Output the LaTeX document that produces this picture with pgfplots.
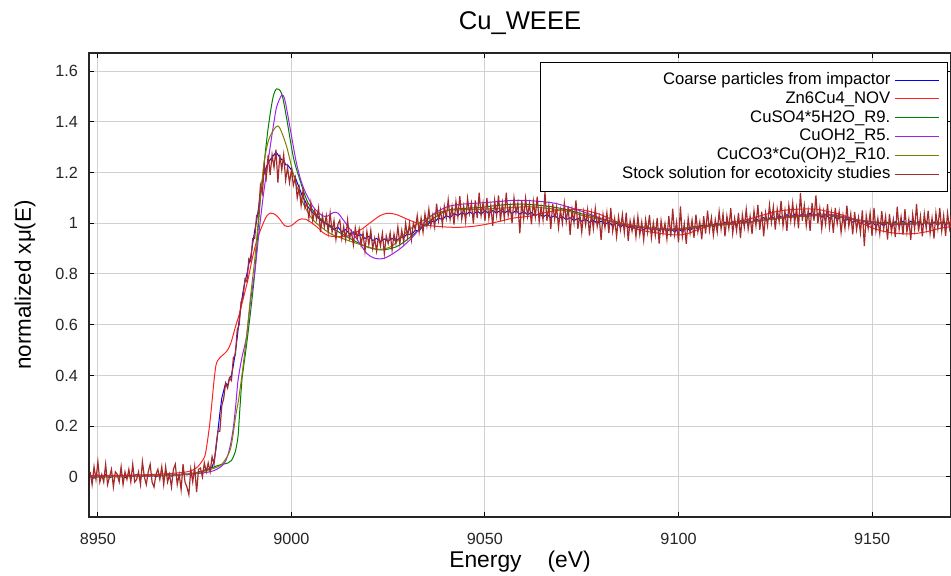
\documentclass[border=0pt]{standalone}
\usepackage{fontspec}
\setmainfont{Liberation Sans}
\usepackage{pgfplots}
\pgfplotsset{compat=1.18}
\definecolor{cblue}{RGB}{0,0,255}
\definecolor{cred}{RGB}{255,35,35}
\definecolor{cgreen}{RGB}{0,128,0}
\definecolor{cpurple}{RGB}{160,32,240}
\definecolor{colive}{RGB}{128,128,0}
\definecolor{cbrown}{RGB}{165,42,42}
\definecolor{cgrid}{RGB}{208,208,208}
\begin{document}
\begin{tikzpicture}
\useasboundingbox (-44.5pt,-29pt) rectangle (431pt,258.5pt);
\begin{axis}[
  at={(0pt,0pt)}, anchor=south west,
  scale only axis, width=431pt, height=232pt,
  xmin=8947.7, xmax=9170.4, ymin=-0.158, ymax=1.671,
  xtick={8950,9000,9050,9100,9150},
  ytick={0,0.2,0.4,0.6,0.8,1,1.2,1.4,1.6},
  scaled x ticks=false, scaled y ticks=false,
  /pgf/number format/1000 sep={},
  /pgf/number format/assume math mode=true,
  grid=major, major grid style={cgrid, line width=0.5pt},
  tick align=inside, major tick length=2.5pt,
  tick style={black, line width=0.5pt},
  axis line style={black!85, line width=0.6pt},
  ticklabel style={font=\fontsize{8.1}{9}\selectfont, text=black!85},
  xticklabel style={yshift=-4.5pt},
  yticklabel style={xshift=-2pt},
  every axis title shift=0pt,
  title={Cu\_WEEE},
  title style={font=\fontsize{12.8}{14}\selectfont, at={(axis description cs:0.5,1.065)}, anchor=center},
  xlabel={Energy\hspace{13pt}(eV)},
  xlabel style={font=\fontsize{11.4}{13}\selectfont, at={(axis description cs:0.5,-0.097)}, anchor=center},
  ylabel={normalized xμ(E)},
  ylabel style={font=\fontsize{11.2}{13}\selectfont, at={(axis description cs:-0.0742,0.5)}, anchor=center},
  legend plot pos=right,
  legend cell align=right,
  legend image code/.code={\draw[#1, line width=0.5pt] (0pt,0pt) -- (22pt,0pt);},
  legend style={at={(axis description cs:0.9965,0.9806)}, anchor=north east,
    draw=black, line width=0.6pt, fill=white,
    font=\fontsize{8.35}{9.4}\selectfont, inner xsep=4pt, inner ysep=4pt,
    nodes={text height=6.2pt, text depth=1.8pt, inner ysep=0.7pt, inner xsep=2pt}},
  every axis plot/.append style={line width=0.5pt},
]
% Coarse particles from impactor
\addplot[cblue] coordinates {
(8948,0.005) (8949,-0.005) (8950,0.008) (8951,0.0) (8952,0.01) (8953,-0.004) (8954,0.006) (8955,0.0) (8956,0.009) (8957,-0.003)
(8958,0.007) (8959,0.002) (8960,0.01) (8961,-0.002) (8962,0.008) (8963,0.003) (8964,0.011) (8965,0.0) (8966,0.009) (8967,0.004)
(8968,0.012) (8969,0.003) (8970,0.01) (8971,0.006) (8972,0.014) (8973,0.008) (8974,0.016) (8975,0.012) (8976,0.02) (8977,0.022)
(8978,0.03) (8979,0.032) (8979.5,0.04) (8980,0.06) (8980.5,0.11) (8981,0.18) (8981.5,0.25) (8982,0.31) (8982.5,0.34) (8983,0.37)
(8983.5,0.36) (8984,0.39) (8984.5,0.40) (8985,0.44) (8985.5,0.49) (8986,0.55) (8986.5,0.62) (8987,0.68) (8987.5,0.73) (8988,0.77)
(8988.5,0.80) (8989,0.84) (8989.5,0.87) (8990,0.92) (8990.5,0.97) (8991,1.01) (8991.5,1.06) (8992,1.12) (8992.5,1.17) (8993,1.20)
(8993.5,1.22) (8994,1.24) (8994.5,1.25) (8995,1.26) (8995.5,1.27) (8996,1.28) (8996.5,1.27) (8997,1.26) (8997.5,1.25) (8998,1.25)
(8998.5,1.23) (8999,1.23) (8999.5,1.22) (9000,1.21) (9000.5,1.19) (9001,1.18) (9001.5,1.16) (9002,1.14) (9002.5,1.12) (9003,1.10)
(9003.5,1.09) (9004,1.07) (9005,1.05) (9006,1.035) (9007,1.02) (9008,1.005) (9009,1.0) (9010,0.99) (9011,0.975) (9012,0.985)
(9013,0.965) (9014,0.975) (9015,0.958) (9016,0.966) (9017,0.95) (9018,0.955) (9019,0.94) (9020,0.948) (9021,0.932) (9022,0.94)
(9023,0.928) (9024,0.938) (9025,0.93) (9026,0.94) (9027,0.93) (9028,0.942) (9029,0.945) (9030,0.958) (9031,0.955) (9032,0.972)
(9033,0.97) (9034,0.99) (9035,0.99) (9036,1.008) (9037,1.005) (9038,1.02) (9039,1.015) (9040,1.03) (9041,1.022) (9042,1.038)
(9043,1.03) (9044,1.042) (9045,1.032) (9046,1.045) (9047,1.035) (9048,1.048) (9049,1.036) (9050,1.05) (9051,1.038) (9052,1.05)
(9053,1.04) (9054,1.052) (9055,1.04) (9056,1.05) (9057,1.038) (9058,1.05) (9059,1.036) (9060,1.046) (9061,1.034) (9062,1.042)
(9063,1.03) (9064,1.038) (9065,1.025) (9066,1.034) (9067,1.022) (9068,1.03) (9069,1.018) (9070,1.026) (9071,1.014) (9072,1.022)
(9073,1.01) (9074,1.02) (9075,1.008) (9076,1.016) (9077,1.004) (9078,1.012) (9079,1.0) (9080,1.008) (9081,0.996) (9082,1.004)
(9083,0.99) (9084,1.0) (9085,0.986) (9086,0.995) (9087,0.982) (9088,0.99) (9089,0.978) (9090,0.988) (9091,0.975) (9092,0.984)
(9093,0.972) (9094,0.982) (9095,0.97) (9096,0.98) (9097,0.968) (9098,0.978) (9099,0.966) (9100,0.976) (9101,0.968) (9102,0.98)
(9103,0.972) (9104,0.986) (9105,0.978) (9106,0.992) (9107,0.984) (9108,0.996) (9109,0.988) (9110,1.0) (9111,0.99) (9112,1.004)
(9113,0.994) (9114,1.006) (9115,0.996) (9116,1.01) (9117,1.0) (9118,1.014) (9119,1.004) (9120,1.018) (9121,1.008) (9122,1.022)
(9123,1.012) (9124,1.026) (9125,1.016) (9126,1.03) (9127,1.02) (9128,1.034) (9129,1.022) (9130,1.036) (9131,1.024) (9132,1.038)
(9133,1.026) (9134,1.04) (9135,1.027) (9136,1.038) (9137,1.024) (9138,1.034) (9139,1.02) (9140,1.03) (9141,1.016) (9142,1.024)
(9143,1.01) (9144,1.018) (9145,1.004) (9146,1.012) (9147,0.998) (9148,1.008) (9149,0.994) (9150,1.004) (9151,0.99) (9152,1.002)
(9153,0.99) (9154,1.004) (9155,0.992) (9156,1.006) (9157,0.994) (9158,1.008) (9159,0.995) (9160,1.008) (9161,0.995) (9162,1.006)
(9163,0.994) (9164,1.006) (9165,0.994) (9166,1.005) (9167,0.993) (9168,1.004) (9169,0.993) (9170,1.003) (9170.5,0.998)
};
\addlegendentry{\makebox[169pt][r]{Coarse particles from impactor}}
% Zn6Cu4_NOV
\addplot[cred, smooth] coordinates {
(8948,0.005) (8955,0.006) (8960,0.008) (8965,0.01) (8970,0.015) (8973,0.02) (8974.5,0.027) (8975.8,0.04) (8976.8,0.06) (8977.6,0.08)
(8978.2,0.13) (8978.9,0.21) (8979.5,0.30) (8980,0.38) (8980.5,0.44) (8981,0.46) (8981.8,0.474) (8982.6,0.485) (8983.5,0.50) (8984.4,0.53)
(8985.5,0.59) (8986.5,0.64) (8987.5,0.70) (8988.8,0.78) (8989.8,0.855) (8991,0.93) (8992,0.973) (8993,1.01) (8993.7,1.03) (8994.6,1.04)
(8995.5,1.037) (8996.5,1.025) (8997.5,1.005) (8998.3,0.99) (8999.1,0.987) (8999.9,0.99) (9000.8,1.0) (9001.7,1.012) (9002.6,1.017) (9003.6,1.016)
(9004.6,1.008) (9005.8,0.995) (9007,0.98) (9008,0.965) (9009.1,0.954) (9010.5,0.948) (9012.5,0.947) (9014.5,0.95) (9016,0.96) (9018,0.975)
(9020,0.998) (9021.5,1.015) (9022.9,1.03) (9024.6,1.039) (9026,1.038) (9027.5,1.032) (9029,1.022) (9030.5,1.012) (9033.2,0.997) (9036,0.99)
(9040,0.985) (9043.5,0.984) (9047,0.988) (9050,0.995) (9054,1.008) (9057.2,1.02) (9061.6,1.028) (9065,1.04) (9068.5,1.05) (9072,1.055)
(9075,1.053) (9078.9,1.039) (9082,1.02) (9084.9,1.0) (9088,0.982) (9091,0.97) (9095.2,0.96) (9098,0.955) (9100.4,0.954) (9103,0.962)
(9105,0.975) (9107.3,0.986) (9110,0.996) (9113,1.002) (9115.9,1.008) (9119,1.02) (9121.8,1.032) (9125,1.045) (9128,1.052) (9132,1.056)
(9135.7,1.055) (9139,1.045) (9141.5,1.036) (9143.5,1.026) (9146,1.008) (9148,0.995) (9150.3,0.98) (9153,0.968) (9156.4,0.96) (9159,0.958)
(9161.5,0.96) (9164.5,0.968) (9167.6,0.98) (9170.5,0.987)
};
\addlegendentry{Zn6Cu4\_NOV}
% CuSO4*5H2O_R9.
\addplot[cgreen, smooth] coordinates {
(8948,0.0) (8960,0.002) (8970,0.008) (8975,0.015) (8978.4,0.03) (8981,0.045) (8983.6,0.055) (8984.5,0.065) (8985.5,0.10) (8986.2,0.16)
(8986.6,0.25) (8987.2,0.38) (8987.6,0.43) (8988.4,0.52) (8989.7,0.685) (8990.6,0.82) (8991.9,1.08) (8992.7,1.20) (8993.7,1.34) (8994.5,1.43)
(8995.3,1.50) (8996.2,1.53) (8997.5,1.51) (8998.8,1.41) (9000.5,1.26) (9002.2,1.17) (9004,1.09) (9005.6,1.05) (9008,1.01) (9010,0.986)
(9014.3,0.947) (9018.5,0.913) (9020.5,0.902) (9022.9,0.895) (9025,0.898) (9027.2,0.908) (9029,0.925) (9031.4,0.954) (9035.8,1.01) (9040.1,1.05)
(9044,1.058) (9048.7,1.062) (9053,1.07) (9057.2,1.075) (9061.6,1.074) (9067.6,1.064) (9072,1.05) (9076.3,1.032) (9084.9,1.0) (9093.4,0.98)
(9100,0.978) (9108,0.993) (9115.9,1.0) (9122,1.012) (9130,1.025) (9139,1.03) (9147,1.01) (9156,1.0) (9165,1.0) (9170.5,1.0)
};
\addlegendentry{CuSO4*5H2O\_R9.}
% CuOH2_R5.
\addplot[cpurple, smooth] coordinates {
(8948,0.0) (8965,0.004) (8975,0.012) (8980,0.025) (8982.7,0.055) (8984,0.11) (8984.9,0.185) (8985.6,0.28) (8986.2,0.38) (8987.2,0.47)
(8988.4,0.553) (8989.5,0.70) (8990.6,0.816) (8991.6,0.96) (8992.7,1.105) (8994.4,1.29) (8995.5,1.40) (8996.2,1.46) (8997.5,1.505) (8998.3,1.486)
(8999.6,1.38) (9001.3,1.237) (9003,1.144) (9005.6,1.065) (9008,1.03) (9009.3,1.028) (9010.8,1.042) (9012,1.04) (9013.4,1.013) (9015.9,0.96)
(9017.7,0.92) (9019.4,0.882) (9021,0.865) (9022.3,0.86) (9024,0.862) (9026.2,0.88) (9028.5,0.905) (9031.4,0.947) (9035.8,1.026) (9040.1,1.064)
(9044,1.075) (9048.7,1.08) (9053,1.085) (9057.2,1.09) (9061.6,1.089) (9067.6,1.08) (9072,1.062) (9076.3,1.04) (9080,1.02) (9084.9,1.0)
(9093.4,0.978) (9100,0.975) (9108,0.99) (9116,1.0) (9122,1.012) (9130,1.03) (9139,1.035) (9147,1.012) (9156,0.995) (9165,1.0) (9170.5,1.0)
};
\addlegendentry{CuOH2\_R5.}
% CuCO3*Cu(OH)2_R10.
\addplot[colive, smooth] coordinates {
(8948,0.0) (8965,0.005) (8975,0.015) (8981,0.04) (8983,0.07) (8984.4,0.12) (8985.7,0.25) (8986.3,0.30) (8987.2,0.40) (8988.4,0.553)
(8989.5,0.72) (8990.6,0.868) (8991.6,1.04) (8992.7,1.21) (8993.5,1.29) (8994.4,1.34) (8996,1.38) (8997,1.375) (8998.8,1.30) (9000.9,1.17)
(9003,1.08) (9005.6,1.013) (9010,0.96) (9014.3,0.934) (9019.4,0.908) (9022.9,0.897) (9026,0.91) (9028,0.94) (9031.4,0.986) (9035.8,1.026)
(9040.1,1.05) (9048.7,1.055) (9057,1.062) (9061.6,1.065) (9067.6,1.056) (9072,1.045) (9076.3,1.026) (9084.9,1.0) (9093.4,0.98) (9100,0.978)
(9108,0.99) (9116,1.0) (9122,1.012) (9130,1.026) (9139,1.03) (9147,1.01) (9156,0.998) (9165,1.0) (9170.5,1.0)
};
\addlegendentry{CuCO3*Cu(OH)2\_R10.}
% Stock solution for ecotoxicity studies
\addplot[cbrown, line width=0.6pt] coordinates {
(8948.0,0.02) (8948.5,-0.03) (8949.0,0.04) (8949.5,-0.01) (8950.0,0.06) (8950.5,-0.02) (8951.0,0.01) (8951.5,-0.02) (8952.0,0.05) (8952.5,-0.03)
(8953.0,0.00) (8953.5,0.03) (8954.0,-0.04) (8954.5,0.02) (8955.0,0.01) (8955.5,-0.02) (8956.0,0.04) (8956.5,-0.03) (8957.0,0.02) (8957.5,-0.01)
(8958.0,0.03) (8958.5,-0.02) (8959.0,0.05) (8959.5,-0.02) (8960.0,-0.01) (8960.5,0.02) (8961.0,-0.03) (8961.5,0.06) (8962.0,0.00) (8962.5,-0.03)
(8963.0,0.02) (8963.5,0.05) (8964.0,-0.02) (8964.5,-0.04) (8965.0,0.01) (8965.5,0.03) (8966.0,-0.01) (8966.5,0.04) (8967.0,-0.03) (8967.5,0.04)
(8968.0,-0.02) (8968.5,0.01) (8969.0,-0.04) (8969.5,0.03) (8970.0,0.05) (8970.5,-0.03) (8971.0,0.01) (8971.5,-0.05) (8972.0,0.05) (8972.5,-0.02)
(8973.0,-0.04) (8973.5,-0.07) (8974.0,0.03) (8974.5,-0.02) (8975.0,0.04) (8975.5,-0.06) (8976.0,0.03) (8976.5,0.035) (8977.0,0.00) (8977.5,0.055)
(8978.0,0.02) (8978.5,0.055) (8979.0,0.02) (8979.5,0.08) (8980.0,0.05) (8980.5,0.12) (8981.0,0.18) (8981.5,0.18) (8982.0,0.28) (8982.5,0.31)
(8983.0,0.37) (8983.5,0.35) (8984.0,0.39) (8984.5,0.38) (8985.0,0.47) (8985.5,0.48) (8986.0,0.58) (8986.5,0.60) (8987.0,0.69) (8987.5,0.71)
(8988.0,0.78) (8988.5,0.77) (8989.0,0.86) (8989.5,0.85) (8990.0,0.94) (8990.5,0.94) (8991.0,1.03) (8991.5,1.04) (8992.0,1.15) (8992.5,1.12)
(8993.0,1.23) (8993.5,1.18) (8994.0,1.27) (8994.5,1.19) (8995.0,1.27) (8995.5,1.22) (8996.0,1.29) (8996.5,1.16) (8997.0,1.27) (8997.5,1.21)
(8998.0,1.27) (8998.5,1.17) (8999.0,1.22) (8999.5,1.16) (9000.0,1.21) (9000.5,1.15) (9001.0,1.18) (9001.5,1.10) (9002.0,1.14) (9002.5,1.07)
(9003.0,1.13) (9003.5,1.06) (9004.0,1.08) (9004.5,1.02) (9005.0,1.08) (9005.5,1.01) (9006.0,1.05) (9006.5,1.015) (9007.0,1.06) (9007.5,0.965)
(9008.0,1.03) (9008.5,0.985) (9009.0,1.03) (9009.5,0.965) (9010.0,1.04) (9010.5,0.965) (9011.0,1.01) (9011.5,0.937) (9012.0,0.995) (9012.5,1.012)
(9013.0,0.94) (9013.5,0.987) (9014.0,0.935) (9014.5,1.012) (9015.0,0.94) (9015.5,0.967) (9016.0,0.915) (9016.5,0.982) (9017.0,0.94) (9017.5,0.977)
(9018.0,0.915) (9018.5,0.962) (9019.0,0.89) (9019.5,0.967) (9020.0,0.915) (9020.5,0.972) (9021.0,0.90) (9021.5,0.94) (9022.0,0.89) (9022.5,0.95)
(9023.0,0.91) (9023.5,0.96) (9024.0,0.88) (9024.5,0.95) (9025.0,0.92) (9025.5,0.962) (9026.0,0.895) (9026.5,0.957) (9027.0,0.92) (9027.5,0.985)
(9028.0,0.92) (9028.5,0.972) (9029.0,0.925) (9029.5,1.0) (9030.0,0.945) (9030.5,1.0) (9031.0,0.935) (9031.5,1.0) (9032.0,0.975) (9032.5,1.03)
(9033.0,0.965) (9033.5,1.02) (9034.0,0.965) (9034.5,1.037) (9035.0,0.99) (9035.5,1.055) (9036.0,0.99) (9036.5,1.032) (9037.0,0.985) (9037.5,1.077)
(9038.0,1.01) (9038.5,1.052) (9039.0,0.995) (9039.5,1.067) (9040.0,1.02) (9040.5,1.092) (9041.0,1.015) (9041.5,1.065) (9042.0,0.995) (9042.5,1.085)
(9043.0,1.025) (9043.5,1.107) (9044.0,1.017) (9044.5,1.067) (9045.0,1.008) (9045.5,1.098) (9046.0,1.038) (9046.5,1.079) (9047.0,0.999) (9047.5,1.09)
(9048.0,1.02) (9048.5,1.12) (9049.0,1.03) (9049.5,1.08) (9050.0,1.01) (9050.5,1.10) (9051.0,1.02) (9051.5,1.07) (9052.0,0.99) (9052.5,1.09)
(9053.0,1.03) (9053.5,1.11) (9054.0,1.01) (9054.5,1.08) (9055.0,1.02) (9055.5,1.12) (9056.0,1.03) (9056.5,1.07) (9057.0,1.0) (9057.5,1.10)
(9058.0,1.04) (9058.5,1.08) (9059.0,0.96) (9059.5,1.09) (9060.0,1.018) (9060.5,1.098) (9061.0,1.027) (9061.5,1.077) (9062.0,0.996) (9062.5,1.086)
(9063.0,1.025) (9063.5,1.105) (9064.0,1.005) (9064.5,1.064) (9065.0,1.013) (9065.5,1.122) (9066.0,1.01) (9066.5,1.069) (9067.0,0.978) (9067.5,1.077)
(9068.0,1.015) (9068.5,1.064) (9069.0,0.983) (9069.5,1.052) (9070.0,1.0) (9070.5,1.079) (9071.0,1.007) (9071.5,1.066) (9072.0,0.954) (9072.5,1.053)
(9073.0,1.001) (9073.5,1.09) (9074.0,0.978) (9074.5,1.037) (9075.0,0.965) (9075.5,1.044) (9076.0,0.993) (9076.5,1.052) (9077.0,0.951) (9077.5,1.04)
(9078.0,0.979) (9078.5,1.058) (9079.0,0.987) (9079.5,1.026) (9080.0,0.935) (9080.5,1.034) (9081.0,0.983) (9081.5,1.042) (9082.0,0.961) (9082.5,1.06)
(9083.0,0.969) (9083.5,1.018) (9084.0,0.947) (9084.5,1.026) (9085.0,0.975) (9085.5,1.034) (9086.0,0.963) (9086.5,1.042) (9087.0,0.931) (9087.5,1.01)
(9088.0,0.969) (9088.5,1.018) (9089.0,0.947) (9089.5,1.026) (9090.0,0.955) (9090.5,1.005) (9091.0,0.934) (9091.5,1.014) (9092.0,0.963) (9092.5,1.033)
(9093.0,0.942) (9093.5,1.002) (9094.0,0.951) (9094.5,1.021) (9095.0,0.92) (9095.5,1.01) (9096.0,0.959) (9096.5,0.999) (9097.0,0.938) (9097.5,1.028)
(9098.0,0.947) (9098.5,1.057) (9099.0,0.956) (9099.5,1.006) (9100.0,0.925) (9100.5,1.066) (9101.0,0.947) (9101.5,0.998) (9102.0,0.919) (9102.5,1.02)
(9103.0,0.961) (9103.5,1.012) (9104.0,0.943) (9104.5,1.034) (9105.0,0.965) (9105.5,1.006) (9106.0,0.937) (9106.5,1.028) (9107.0,0.959) (9107.5,1.05)
(9108.0,0.971) (9108.5,1.022) (9109.0,0.953) (9109.5,1.014) (9110.0,0.965) (9110.5,1.046) (9111.0,0.977) (9111.5,1.037) (9112.0,0.948) (9112.5,1.028)
(9113.0,0.979) (9113.5,1.059) (9114.0,0.96) (9114.5,1.02) (9115.0,0.97) (9115.5,1.041) (9116.0,0.942) (9116.5,1.033) (9117.0,0.984) (9117.5,1.055)
(9118.0,0.976) (9118.5,1.027) (9119.0,0.958) (9119.5,1.049) (9120.0,0.99) (9120.5,1.072) (9121.0,0.974) (9121.5,1.046) (9122.0,0.948) (9122.5,1.04)
(9123.0,0.991) (9123.5,1.072) (9124.0,1.003) (9124.5,1.064) (9125.0,0.975) (9125.5,1.056) (9126.0,1.007) (9126.5,1.088) (9127.0,0.989) (9127.5,1.05)
(9128.0,0.97) (9128.5,1.07) (9129.0,1.01) (9129.5,1.08) (9130.0,1.0) (9130.5,1.06) (9131.0,0.98) (9131.5,1.12) (9132.0,1.01) (9132.5,1.07)
(9133.0,0.99) (9133.5,1.05) (9134.0,0.97) (9134.5,1.08) (9135.0,1.01) (9135.5,1.11) (9136.0,1.0) (9136.5,1.059) (9137.0,0.978) (9137.5,1.047)
(9138.0,0.996) (9138.5,1.075) (9139.0,0.984) (9139.5,1.043) (9140.0,0.962) (9140.5,1.06) (9141.0,0.998) (9141.5,1.046) (9142.0,0.964) (9142.5,1.032)
(9143.0,0.98) (9143.5,1.069) (9144.0,0.988) (9144.5,1.037) (9145.0,0.956) (9145.5,1.045) (9146.0,0.974) (9146.5,1.023) (9147.0,0.962) (9147.5,1.051)
(9148.0,0.91) (9148.5,1.03) (9149.0,0.98) (9149.5,1.04) (9150.0,0.95) (9150.5,1.06) (9151.0,0.969) (9151.5,1.019) (9152.0,0.958) (9152.5,1.048)
(9153.0,0.977) (9153.5,1.027) (9154.0,0.936) (9154.5,1.036) (9155.0,0.965) (9155.5,1.015) (9156.0,0.945) (9156.5,1.065) (9157.0,0.975) (9157.5,1.025)
(9158.0,0.955) (9158.5,1.055) (9159.0,0.965) (9159.5,1.015) (9160.0,0.935) (9160.5,1.035) (9161.0,0.976) (9161.5,1.076) (9162.0,0.967) (9162.5,1.027)
(9163.0,0.948) (9163.5,1.038) (9164.0,0.979) (9164.5,1.049) (9165.0,0.96) (9165.5,1.02) (9166.0,0.94) (9166.5,1.04) (9167.0,0.98) (9167.5,1.06)
(9168.0,0.97) (9168.5,1.03) (9169.0,0.95) (9169.5,1.04) (9170.0,0.98) (9170.5,1.03)
};
\addlegendentry{Stock solution for ecotoxicity studies}
\end{axis}
\end{tikzpicture}
\end{document}
